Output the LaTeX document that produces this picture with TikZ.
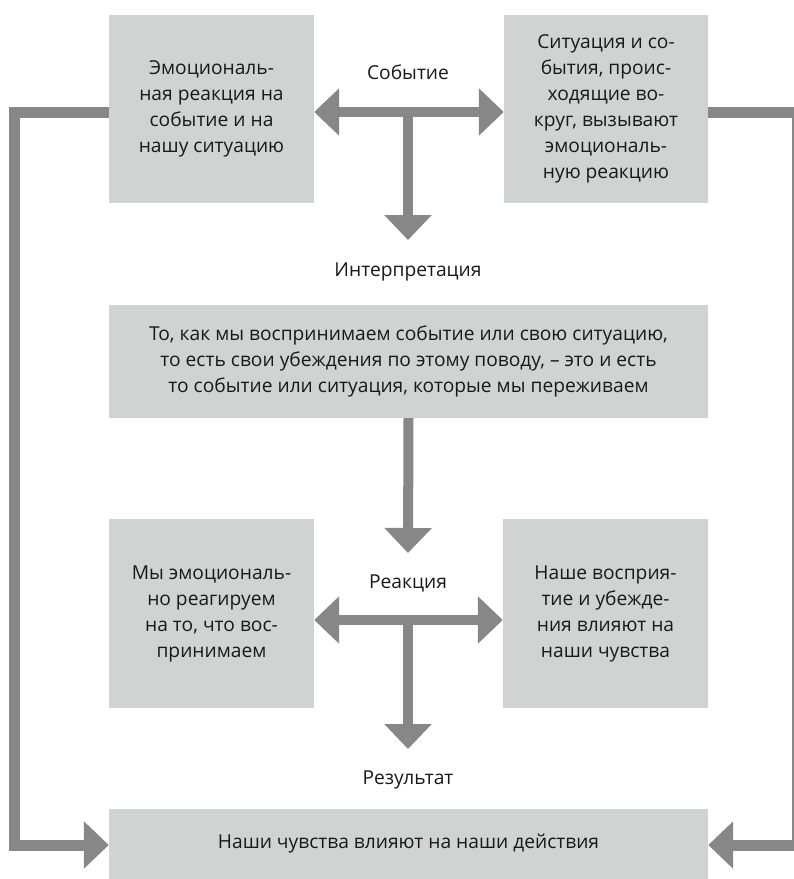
\documentclass[tikz,border=0pt]{standalone}
\usepackage{fontspec}
\setmainfont{Open Sans}
\usetikzlibrary{arrows.meta}
\definecolor{boxgray}{RGB}{209,211,210}
\definecolor{arrgray}{RGB}{135,135,135}
\definecolor{txt}{RGB}{25,25,25}
\newcommand\fsz{\fontsize{19.2}{26}\selectfont}
\begin{document}
\begin{tikzpicture}[x=1pt,y=-1pt,
  box/.style={fill=boxgray, inner sep=0pt, align=center, text=txt, font=\fsz},
  lbl/.style={text=txt, font=\fsz, inner sep=0pt},
  tip/.style={-{Triangle[length=25pt,width=46pt]}},
  arr/.style={draw=arrgray, line width=10pt, tip},
  darr/.style={draw=arrgray, line width=10pt, {Triangle[length=25pt,width=46pt]}-{Triangle[length=25pt,width=46pt]}},
  fb/.style={draw=arrgray, line width=11pt, tip}
]
\useasboundingbox (0,0) rectangle (794,879);
\clip (0,0) rectangle (794,879);
% boxes
\node[box, minimum width=205pt, minimum height=188pt] (tl) at (211.5,109)
  {Эмоциональ-\\ная реакция на\\событие и на\\нашу ситуацию};
\node[box, minimum width=204pt, minimum height=188pt] (tr) at (606,109)
  {Ситуация и со-\\бытия, проис-\\ходящие во-\\круг, вызывают\\эмоциональ-\\ную реакцию};
\node[box, minimum width=599pt, minimum height=113pt] (mid) at (408.5,361.5)
  {То, как мы воспринимаем событие или свою ситуацию,\\то есть свои убеждения по этому поводу, – это и есть\\то событие или ситуация, которые мы переживаем};
\node[box, minimum width=205pt, minimum height=189pt] (ll) at (211.5,613.5)
  {Мы эмоциональ-\\но реагируем\\на то, что вос-\\принимаем};
\node[box, minimum width=205pt, minimum height=189pt] (lr) at (605.5,613.5)
  {Наше восприя-\\тие и убежде-\\ния влияют на\\наши чувства};
\node[box, minimum width=599pt, minimum height=70pt] (bot) at (408.5,844)
  {Наши чувства влияют на наши действия};
% labels
\node[lbl] (ev) at (408,72) {Событие};
\node[lbl] (in) at (408,272) {Интерпретация};
\node[lbl] (re) at (408,583) {Реакция};
\node[lbl] (rs) at (408,780) {Результат};
% junctions and tips
\coordinate (tj) at (408,112);
\coordinate (tt) at (408,240);
\coordinate (mt) at (408,553);
\coordinate (rj) at (408,620);
\coordinate (rt) at (408,749);
\coordinate (l1) at (14,112);
\coordinate (l2) at (14,845);
\coordinate (r1) at (797,112);
\coordinate (r2) at (797,845);
% arrows
\draw[darr] ([yshift=-3pt]tl.east) -- ([yshift=-3pt]tr.west);
\draw[arr] (tj) -- (tt);
\draw[arr] (mid.south) -- (mt);
\draw[darr] ([yshift=-6.5pt]ll.east) -- ([yshift=-6.5pt]lr.west);
\draw[arr] (rj) -- (rt);
\draw[fb] ([yshift=-3pt]tl.west) -- (l1) -- (l2) -- ([yshift=-1pt]bot.west);
\draw[fb] ([yshift=-3pt]tr.east) -- (r1) -- (r2) -- ([yshift=-1pt]bot.east);
\end{tikzpicture}
\end{document}
